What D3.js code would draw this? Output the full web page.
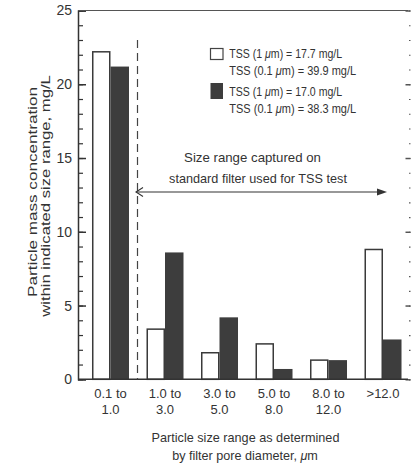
<!DOCTYPE html>
<html lang="en">
<head>
    <meta charset="UTF-8">
    <title>Particle size distribution</title>
    <script src="https://d3js.org/d3.v7.min.js"></script>
    <style>
        body { margin: 0; background: #fff; }
        text { font-family: "Liberation Sans Narrow", "Arial Narrow", "Liberation Sans", Arial, sans-serif; fill: #333; }
    </style>
</head>
<body>
<div id="main"></div>
</body>
<script>
    // data
    const categories = ["0.1 to|1.0", "1.0 to|3.0", "3.0 to|5.0", "5.0 to|8.0", "8.0 to|12.0", ">12.0"]
    const sampleA = [22.2, 3.4, 1.8, 2.4, 1.3, 8.8]   // open bars
    const sampleB = [21.2, 8.6, 4.2, 0.7, 1.3, 2.7]   // filled bars
    const yTicks = [0, 5, 10, 15, 20, 25]
    const legendLines = [
        ["TSS (1 ", "m) = 17.7 mg/L"],
        ["TSS (0.1 ", "m) = 39.9 mg/L"],
        ["TSS (1 ", "m) = 17.0 mg/L"],
        ["TSS (0.1 ", "m) = 38.3 mg/L"]
    ]

    const W = 411, H = 468
    const plotL = 78, plotR = 408, plotT = 10.5, plotB = 379.3
    const ink = "#333"

    let svg = d3.select("#main").append("svg")
        .attr("width", W).attr("height", H)
    svg.append("rect").attr("width", W).attr("height", H).attr("fill", "#fff")

    let y = d3.scaleLinear().domain([0, 25]).range([plotB, plotT])
    let x0 = d3.scaleBand().domain(categories).range([84.5, 409])
        .paddingInner(0.321).paddingOuter(0.1375)
    let x1 = d3.scaleBand().domain(["a", "b"]).range([0, x0.bandwidth()])

    // squeeze a text to the width it has in the scan (the scan is condensed)
    function fit(t, len, x, yy, rot) {
        let w = t.node().getComputedTextLength()
        let k = w > 0 ? len / w : 1
        t.attr("x", 0).attr("y", 0)
            .attr("transform", `translate(${x},${yy})${rot ? " rotate(" + rot + ")" : ""} scale(${k},1)`)
        return t
    }

    // bars
    let groups = svg.append("g").selectAll("g")
        .data(categories)
        .enter().append("g")
        .attr("transform", d => `translate(${x0(d)},0)`)

    groups.append("rect")
        .attr("x", x1("a") + 0.75)
        .attr("y", (d, i) => y(sampleA[i]))
        .attr("width", x1.bandwidth() - 1.5)
        .attr("height", (d, i) => plotB - y(sampleA[i]))
        .attr("fill", "#fff").attr("stroke", "#3a3a3a").attr("stroke-width", 1.5)

    groups.append("rect")
        .attr("x", x1("b"))
        .attr("y", (d, i) => y(sampleB[i]))
        .attr("width", x1.bandwidth())
        .attr("height", (d, i) => plotB - y(sampleB[i]))
        .attr("fill", "#3d3d3d")

    // left axis: majors + minor ticks, inward
    svg.append("g").attr("transform", `translate(${plotL},0)`)
        .call(d3.axisLeft(y).tickValues(d3.range(0, 26)).tickSize(-5).tickFormat(""))
        .call(g => g.select(".domain").remove())
        .selectAll("line").attr("stroke", ink).attr("stroke-width", 1.2)

    let yAxis = svg.append("g").attr("transform", `translate(${plotL},0)`)
        .call(d3.axisLeft(y).tickValues(yTicks).tickSize(-8).tickPadding(6))
    yAxis.attr("font-family", null)
    yAxis.select(".domain").attr("stroke", ink).attr("stroke-width", 1.5)
    yAxis.selectAll("line").attr("stroke", ink).attr("stroke-width", 1.5)
    yAxis.selectAll("text").attr("font-size", 14).attr("fill", ink)

    // right axis, only ticks visible at the edge
    svg.append("g").attr("transform", "translate(410.5,0)")
        .call(d3.axisRight(y).tickValues(d3.range(0, 26)).tickSize(-1.5).tickFormat(""))
        .call(g => g.select(".domain").remove())
        .selectAll("line").attr("stroke", "#555").attr("stroke-width", 1.2)
    svg.append("g").attr("transform", "translate(410.5,0)")
        .call(d3.axisRight(y).tickValues(yTicks).tickSize(-5).tickFormat(""))
        .call(g => g.select(".domain").remove())
        .selectAll("line").attr("stroke", "#555").attr("stroke-width", 1.5)

    // frame top + baseline
    svg.append("path").attr("d", `M${plotL},${plotT} L${plotR},${plotT}`)
        .attr("stroke", "#555").attr("stroke-width", 1.2)
    svg.append("path").attr("d", `M${plotL},${plotB} L${plotR},${plotB}`)
        .attr("stroke", ink).attr("stroke-width", 1.5)

    // category labels
    let xAxis = svg.append("g").attr("transform", `translate(0,${plotB})`)
        .call(d3.axisBottom(x0).tickSize(0).tickPadding(0))
    xAxis.attr("font-family", null)
    xAxis.select(".domain").remove()
    xAxis.selectAll("text").each(function (d) {
        let t = d3.select(this).text("").attr("font-size", 13).attr("y", 0).attr("dy", null)
        d.split("|").forEach((s, k) => {
            t.append("tspan").attr("x", 0).attr("y", 18.5 + k * 16).text(s)
        })
    })

    function label(str, x, yy, len, size) {
        let t = svg.append("text")
            .attr("text-anchor", "middle")
            .attr("font-size", size || 13)
            .text(str)
        return fit(t, len, x, yy)
    }

    // x title
    label("Particle size range as determined", 245.5, 441.5, 188)
    let xt = svg.append("text").attr("text-anchor", "middle").attr("font-size", 13)
    xt.append("tspan").text("by filter pore diameter, ")
    xt.append("tspan").attr("font-style", "italic").text("\u03bc")
    xt.append("tspan").text("m")
    fit(xt, 146, 245, 459.5)

    // y title
    fit(svg.append("text").attr("text-anchor", "middle").attr("font-size", 13.5)
        .text("Particle mass concentration"), 210, 36.5, 192, -90)
    fit(svg.append("text").attr("text-anchor", "middle").attr("font-size", 13.5)
        .text("within indicated size range, mg/L"), 242, 49.5, 196, -90)

    // legend
    svg.append("rect").attr("x", 210.5).attr("y", 48.5).attr("width", 12.5).attr("height", 11)
        .attr("fill", "#fff").attr("stroke", "#444").attr("stroke-width", 1.2)
    svg.append("rect").attr("x", 210.5).attr("y", 83).attr("width", 12.5).attr("height", 16)
        .attr("fill", "#3d3d3d")
    const legendY = [57.8, 74.5, 96, 112.8]
    const legendW = [113, 127, 113, 127]
    legendLines.forEach((p, i) => {
        let t = svg.append("text").attr("font-size", 13)
        t.append("tspan").text(p[0])
        t.append("tspan").attr("font-style", "italic").text("\u03bc")
        t.append("tspan").text(p[1])
        fit(t, legendW[i], 229.3, legendY[i])
    })

    // TSS filter range annotation
    label("Size range captured on", 252.5, 161.5, 137)
    label("standard filter used for TSS test", 258, 182.5, 178)

    svg.append("path").attr("d", `M137.5,40 L137.5,${plotB}`)
        .attr("stroke", "#444").attr("stroke-width", 1.2).attr("stroke-dasharray", "8,5")

    svg.append("path").attr("d", "M136,192 L380,192")
        .attr("stroke", "#333").attr("stroke-width", 1.1)
    svg.append("path").attr("d", "M143,187.5 L136,192 L143,196.5")
        .attr("fill", "none").attr("stroke", "#333").attr("stroke-width", 1.1)
    svg.append("path").attr("d", "M377,188.5 L387,192 L377,195.5 Z")
        .attr("fill", "#333")
</script>
</html>
